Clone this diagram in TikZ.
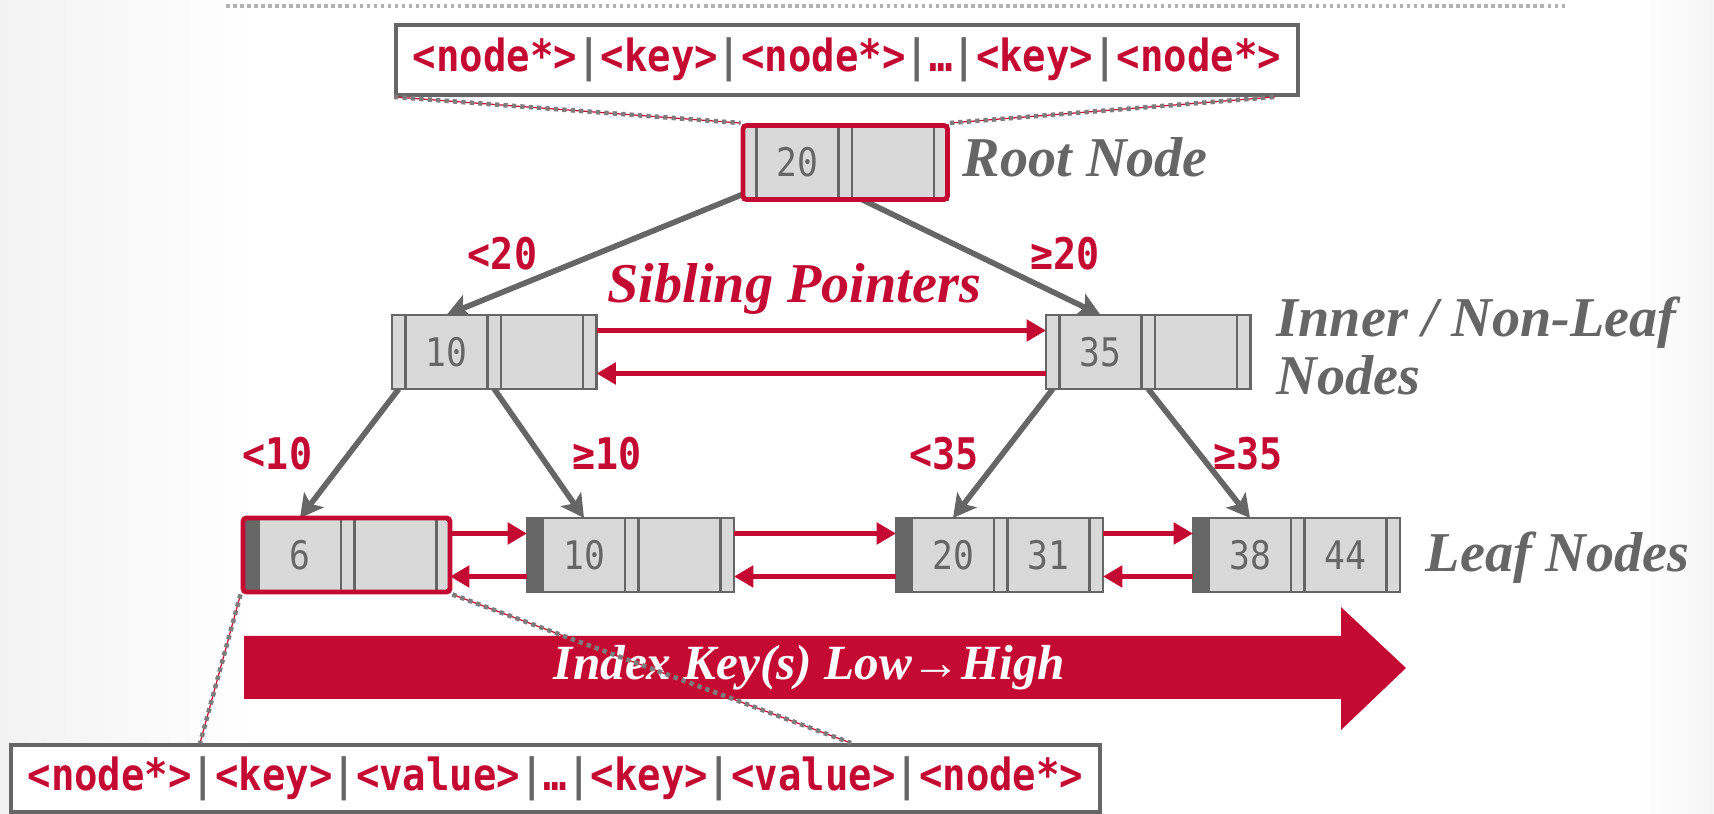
\documentclass[tikz,border=0pt]{standalone}
\usepackage{fontspec}
\usepackage{tikz}
\usetikzlibrary{positioning,fit,arrows.meta,backgrounds}
\usepackage{xcolor}
\definecolor{dbred}{RGB}{196,10,50}
\definecolor{dbgray}{RGB}{102,102,102}
\definecolor{dbcell}{RGB}{217,217,217}
\newfontfamily\dbmono{DejaVu Sans Mono}[FakeStretch=0.88]
\newfontfamily\dbserif{Liberation Serif}
\newcommand{\keysep}{\textcolor{dbgray}{|}}
\tikzset{
    bpcell/.style={rectangle, draw=dbgray, fill=dbcell, line width=0.7pt, inner sep=0pt, outer sep=0pt, minimum height=0.74cm},
    ptr/.style={bpcell, minimum width=0.135cm},
    bar/.style={bpcell, fill=dbgray, minimum width=0.16cm},
    keycell/.style={bpcell, minimum width=0.82cm, text=dbgray, font=\dbmono\fontsize{11.2}{12}\selectfont},
    redframe/.style={draw=dbred, line width=1.4pt, rounded corners=1pt, inner sep=0pt},
    boundlabel/.style={text=dbred, inner sep=0pt, font=\dbmono\bfseries\fontsize{12.4}{14}\selectfont},
    notelabel/.style={text=dbgray, inner sep=0pt, font=\dbserif\bfseries\itshape\fontsize{16}{16.5}\selectfont},
    layoutbox/.style={draw=dbgray, line width=1.1pt, fill=white, inner sep=0pt, text=dbred, font=\dbmono\bfseries\fontsize{12.6}{14}\selectfont},
    treeedge/.style={draw=dbgray, line width=1.6pt, -{Stealth[length=6.5pt,width=7pt,inset=1.5pt]}},
    sibling/.style={draw=dbred, line width=1.4pt, -{Triangle[length=5.5pt,width=6pt]}},
    zoomline/.style={draw=dbgray!85, line width=1.3pt, dash pattern=on 1.2pt off 1.2pt, preaction={draw=dbred, line width=0.35pt, solid}},
}

\begin{document}
\begin{tikzpicture}
    \useasboundingbox (0,0) rectangle (17.14,8.14);

    % Slide background
    \begin{scope}[on background layer]
        \fill[left color=black!5, right color=white] (0,0) rectangle (2.6,8.14);
        \fill[left color=white, right color=black!4] (16.4,0) rectangle (17.14,8.14);
    \end{scope}
    \draw[black!30, line width=0.9pt, dash pattern=on 1pt off 1pt] (2.26,8.08) -- (15.65,8.08);

    % B+Tree nodes
    \foreach \n/\x/\y/\a/\b/\f in {r/7.43/6.515/20//ptr, i1/3.92/4.62/10//ptr, i2/10.46/4.62/35//ptr,
            l1/2.43/2.59/6//bar, l2/5.27/2.59/10//bar, l3/8.96/2.59/20/31/bar, l4/11.93/2.59/38/44/bar} {
        \node[\f, anchor=west] (\n-p0) at (\x,\y) {};
        \node[keycell, right=0pt of \n-p0] (\n-k1) {\a};
        \node[ptr, right=0pt of \n-k1] (\n-p1) {};
        \node[keycell, right=0pt of \n-p1] (\n-k2) {\b};
        \node[ptr, right=0pt of \n-k2] (\n-p2) {};
    }
    \node[redframe, fit=(r-p0)(r-p2)] (root) {};
    \node[redframe, fit=(l1-p0)(l1-p2)] (leafA) {};

    % Child pointers
    \begin{scope}[on background layer]
        \draw[treeedge] ([yshift=0.08cm]r-p0.south) -- (i1-k1.north);
        \draw[treeedge] ([yshift=0.08cm]r-p1.south) -- (i2-k1.north);
        \draw[treeedge] (i1-p0.south) -- (l1-k1.north);
        \draw[treeedge] (i1-p1.south) -- (l2-k1.north);
        \draw[treeedge] (i2-p0.south) -- (l3-k1.north);
        \draw[treeedge] (i2-p1.south) -- (l4-k1.north);
    \end{scope}

    % Sibling pointers
    \foreach \a/\b in {i1/i2, l1/l2, l2/l3, l3/l4} {
        \draw[sibling] ([yshift=0.215cm]\a-p2.east) -- ([yshift=0.215cm]\b-p0.west);
        \draw[sibling] ([yshift=-0.215cm]\b-p0.west) -- ([yshift=-0.215cm]\a-p2.east);
    }

    % Key ranges
    \node[boundlabel] (lt20) at (5.025,5.60) {<20};
    \node[boundlabel] (ge20) at (10.65,5.60) {≥20};
    \node[boundlabel] (lt10) at (2.775,3.60) {<10};
    \node[boundlabel] (ge10) at (6.07,3.60) {≥10};
    \node[boundlabel] (lt35) at (9.44,3.60) {<35};
    \node[boundlabel] (ge35) at (12.48,3.60) {≥35};

    % Labels
    \node[notelabel, anchor=base west] (rootlbl) at (9.62,6.37) {Root Node};
    \node[notelabel, anchor=north west, align=left] (innerlbl) at (12.76,5.18) {Inner / Non-Leaf\\Nodes};
    \node[notelabel, anchor=base west] (leaflbl) at (14.25,2.42) {Leaf Nodes};
    \node[notelabel, text=dbred, anchor=base west] (siblbl) at (6.07,5.11) {Sibling Pointers};

    % Key order
    \fill[dbred] (2.44,1.78) -- (13.41,1.78) -- (13.41,2.07) -- (14.06,1.46) -- (13.41,0.84) -- (13.41,1.15) -- (2.44,1.15) -- cycle;
    \node[notelabel, text=white, font=\dbserif\bfseries\itshape\fontsize{14}{16}\selectfont, anchor=base] (order) at (8.095,1.34) {Index Key(s) Low→High};

    % Node layouts
    \node[layoutbox, minimum width=9.02cm, minimum height=0.70cm] (innerlay) at (8.47,7.54)
        {<node*>\keysep<key>\keysep<node*>\keysep…\keysep<key>\keysep<node*>};
    \node[layoutbox, minimum width=10.89cm, minimum height=0.67cm] (leaflay) at (5.555,0.355)
        {<node*>\keysep<key>\keysep<value>\keysep…\keysep<key>\keysep<value>\keysep<node*>};
    \coordinate (innerlayR) at ([xshift=-0.25cm]innerlay.south east);
    \coordinate (leaflayL) at ([xshift=1.91cm]leaflay.north west);
    \coordinate (leaflayR) at ([xshift=8.42cm]leaflay.north west);
    \draw[zoomline] (innerlay.south west) -- (root.north west);
    \draw[zoomline] (root.north east) -- (innerlayR);
    \draw[zoomline] (leafA.south west) -- (leaflayL);
    \draw[zoomline] (leafA.south east) -- (leaflayR);
\end{tikzpicture}
\end{document}
